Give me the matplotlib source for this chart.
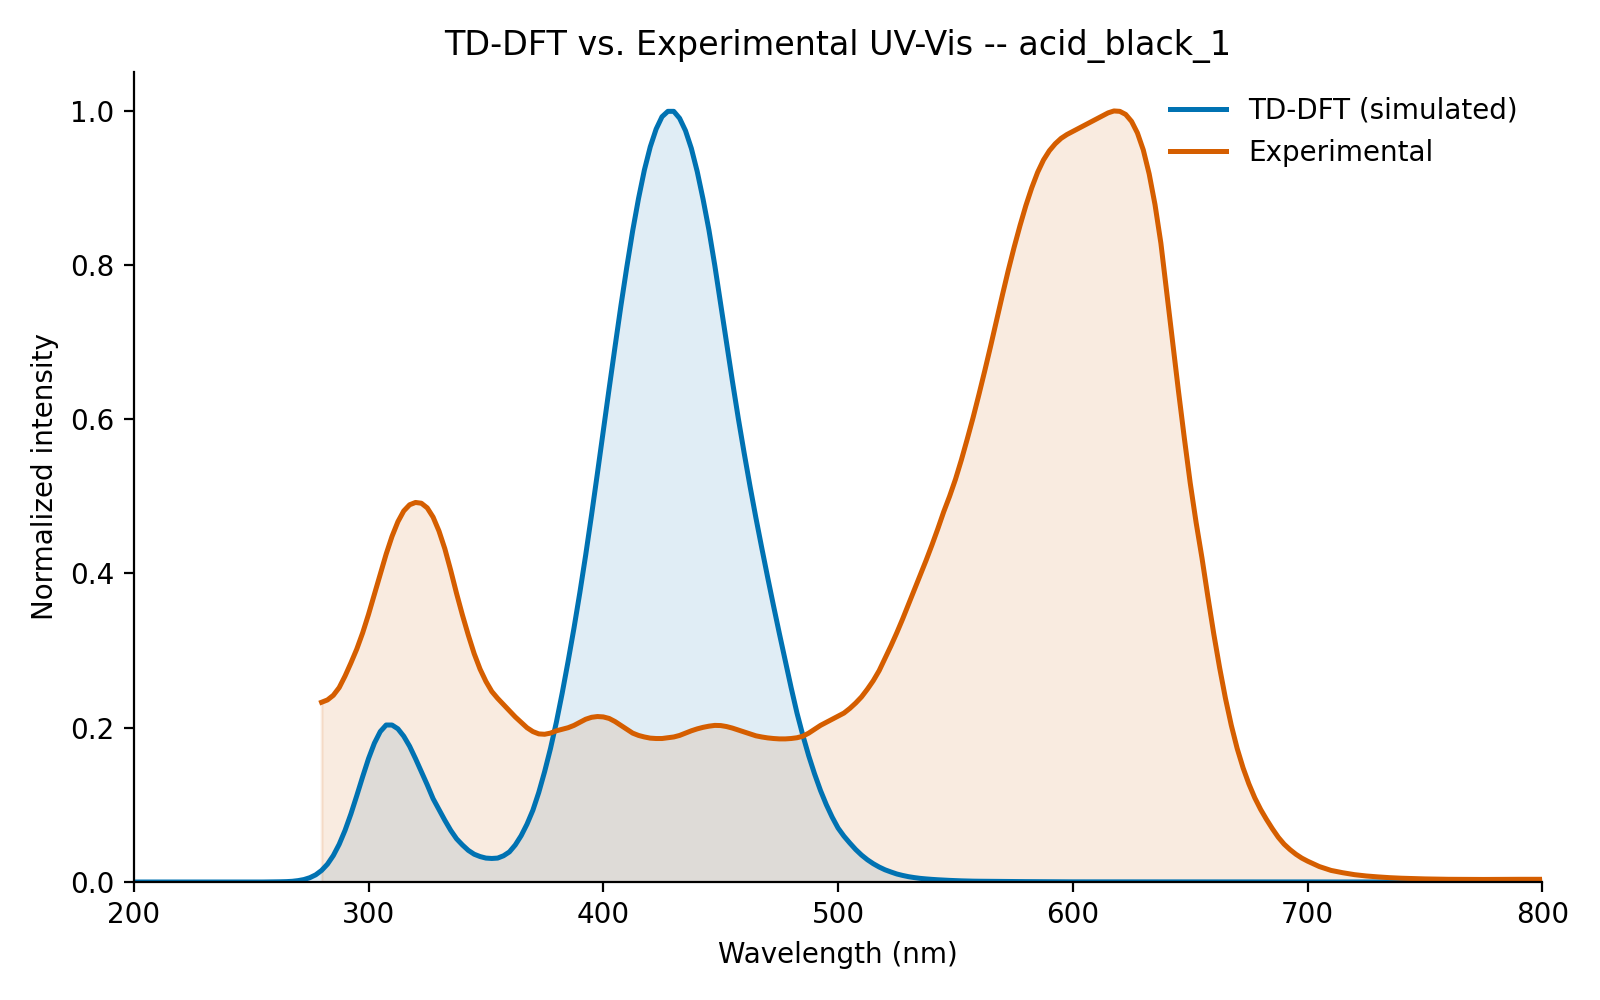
import numpy as np
import matplotlib
matplotlib.use("Agg")
import matplotlib.pyplot as plt

# --- Data ---
# TD-DFT simulated spectrum: sampled wavelengths (nm)
sim_wavelength = np.concatenate([[200.0, 255.0],
                                 np.arange(257.5, 562.5, 2.5),
                                 [580.0, 600.0, 800.0]])
sim_intensity = [
    0.0, 0.0,
    0.0001, 0.0002, 0.0003, 0.0005, 0.0009, 0.0018, 0.0032, 0.0056,   # 257.5-275
    0.0093, 0.0150, 0.0231, 0.0343, 0.0489, 0.0670, 0.0883, 0.112,    # 277.5-295
    0.1365, 0.160, 0.180, 0.195, 0.2035, 0.2035, 0.1986, 0.189,       # 297.5-315
    0.176, 0.160, 0.143, 0.126, 0.108, 0.094, 0.080, 0.067,           # 317.5-335
    0.056, 0.048, 0.041, 0.036, 0.033, 0.031, 0.0305, 0.031,          # 337.5-355
    0.034, 0.039, 0.048, 0.060, 0.075, 0.093, 0.116, 0.143,           # 357.5-375
    0.173, 0.207, 0.245, 0.286, 0.329, 0.375, 0.424, 0.476,           # 377.5-395
    0.530, 0.585, 0.640, 0.694, 0.747, 0.797, 0.844, 0.886,           # 397.5-415
    0.923, 0.953, 0.976, 0.992, 0.999, 0.999, 0.990, 0.974,           # 417.5-435
    0.951, 0.921, 0.885, 0.845, 0.799, 0.749, 0.699, 0.649,           # 437.5-455
    0.601, 0.556, 0.513, 0.472, 0.433, 0.395, 0.358, 0.322,           # 457.5-475
    0.287, 0.252, 0.219, 0.190, 0.1635, 0.140, 0.1187, 0.1002,        # 477.5-495
    0.0840, 0.0699, 0.0594, 0.0505, 0.0421, 0.0349, 0.0288, 0.0237,   # 497.5-515
    0.0194, 0.0158, 0.0130, 0.0104, 0.0085, 0.0069, 0.0057, 0.0047,   # 517.5-535
    0.0040, 0.0034, 0.0029, 0.0025, 0.0021, 0.0018, 0.0015, 0.0013,   # 537.5-555
    0.0011, 0.0010,                                                   # 557.5-560
    0.0005, 0.0002, 0.0,
]

# Experimental spectrum: sampled wavelengths (nm)
exp_wavelength = np.concatenate([np.arange(280.0, 702.5, 2.5),
                                 np.arange(705.0, 805.0, 5.0)])
exp_intensity = [
    0.233, 0.236, 0.242, 0.252, 0.267, 0.284, 0.302, 0.323,           # 280-297.5
    0.347, 0.373, 0.399, 0.425, 0.448, 0.467, 0.481, 0.489,           # 300-317.5
    0.492, 0.491, 0.485, 0.473, 0.455, 0.432, 0.404, 0.374,           # 320-337.5
    0.346, 0.320, 0.296, 0.276, 0.260, 0.247, 0.238, 0.230,           # 340-357.5
    0.222, 0.214, 0.207, 0.200, 0.195, 0.192, 0.1915, 0.193,          # 360-377.5
    0.196, 0.198, 0.200, 0.203, 0.207, 0.211, 0.2135, 0.2145,         # 380-397.5
    0.214, 0.212, 0.208, 0.203, 0.198, 0.193, 0.190, 0.188,           # 400-417.5
    0.1865, 0.186, 0.186, 0.187, 0.188, 0.190, 0.193, 0.196,          # 420-437.5
    0.1985, 0.2005, 0.202, 0.203, 0.2028, 0.2015, 0.1995, 0.197,      # 440-457.5
    0.1945, 0.192, 0.1895, 0.188, 0.1868, 0.186, 0.1855, 0.1855,      # 460-477.5
    0.186, 0.187, 0.189, 0.193, 0.198, 0.203, 0.207, 0.211,           # 480-497.5
    0.215, 0.219, 0.225, 0.232, 0.240, 0.250, 0.261, 0.274,           # 500-517.5
    0.290, 0.306, 0.323, 0.341, 0.360, 0.379, 0.398, 0.417,           # 520-537.5
    0.437, 0.458, 0.480, 0.500, 0.522, 0.547, 0.574, 0.602,           # 540-557.5
    0.632, 0.663, 0.695, 0.728, 0.761, 0.793, 0.823, 0.851,           # 560-577.5
    0.877, 0.900, 0.920, 0.936, 0.948, 0.957, 0.964, 0.969,           # 580-597.5
    0.973, 0.977, 0.981, 0.985, 0.989, 0.993, 0.997, 0.9995,          # 600-617.5
    0.999, 0.995, 0.986, 0.971, 0.949, 0.918, 0.878, 0.828,           # 620-637.5
    0.764, 0.700, 0.636, 0.575, 0.517, 0.466, 0.420, 0.370,           # 640-657.5
    0.322, 0.278, 0.238, 0.203, 0.173, 0.148, 0.127, 0.109,           # 660-677.5
    0.094, 0.081, 0.069, 0.058, 0.049, 0.042, 0.036, 0.031,           # 680-697.5
    0.027,                                                            # 700
    0.020, 0.015, 0.012, 0.0095, 0.0078, 0.0066, 0.0056, 0.0049,      # 705-740
    0.0044, 0.0040, 0.0037, 0.0035, 0.0034, 0.0033, 0.0033, 0.0034,   # 745-780
    0.0035, 0.0035, 0.0035, 0.0035,                                   # 785-800
]

title = "TD-DFT vs. Experimental UV-Vis -- acid_black_1"
sim_label = "TD-DFT (simulated)"
exp_label = "Experimental"

BLUE = "#0072B2"
ORANGE = "#D55E00"

n = min(len(sim_wavelength), len(sim_intensity))
sim_wavelength, sim_intensity = sim_wavelength[:n], np.array(sim_intensity[:n])
m = min(len(exp_wavelength), len(exp_intensity))
exp_wavelength, exp_intensity = exp_wavelength[:m], np.array(exp_intensity[:m])

fig = plt.figure(figsize=(8, 5), dpi=200)
ax = fig.add_axes([0.0836, 0.118, 0.964 - 0.0836, 0.928 - 0.118])

ax.plot(sim_wavelength, sim_intensity, color=BLUE, lw=1.8, label=sim_label)
ax.fill_between(sim_wavelength, sim_intensity, color=BLUE, alpha=0.12, lw=0)
ax.plot(exp_wavelength, exp_intensity, color=ORANGE, lw=1.8, label=exp_label)
ax.fill_between(exp_wavelength, exp_intensity, color=ORANGE, alpha=0.12)

ax.set_xlim(200, 800)
ax.set_ylim(0, 1.05)
ax.set_xlabel("Wavelength (nm)")
ax.set_ylabel("Normalized intensity")
ax.set_title(title)
ax.spines["top"].set_visible(False)
ax.spines["right"].set_visible(False)
ax.legend(loc="upper right", frameon=False)

fig.savefig("out.png", dpi=200)
